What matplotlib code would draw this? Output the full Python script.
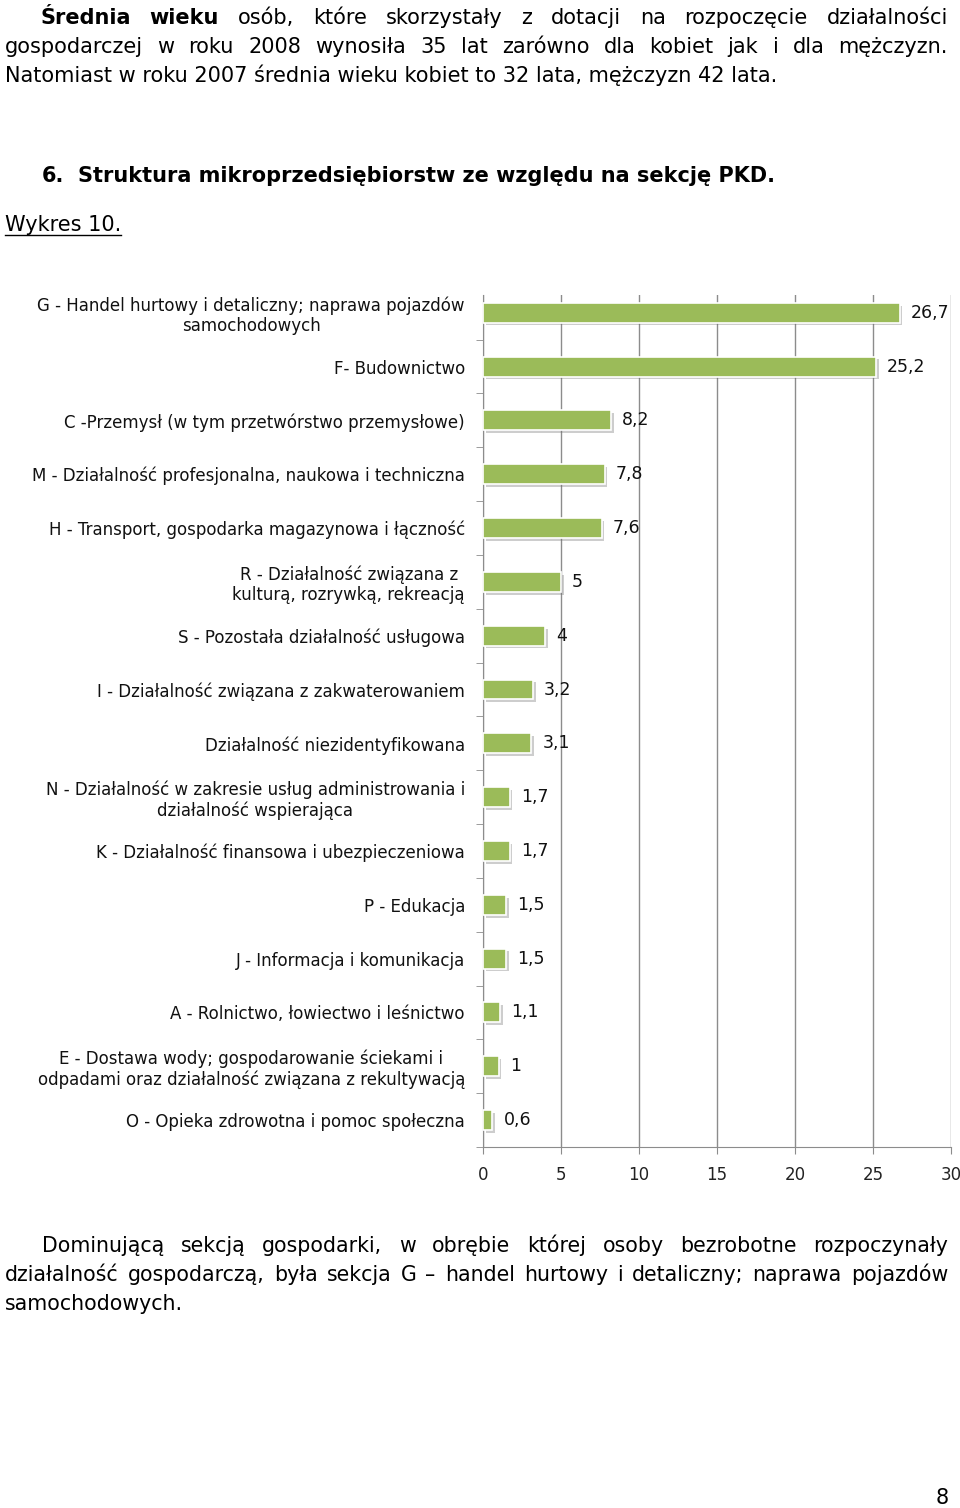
import numpy as np
import matplotlib
matplotlib.use("Agg")
import matplotlib.pyplot as plt
import matplotlib.patheffects as pe

# dane z wykresu
kategorie = [
    "G - Handel hurtowy i detaliczny; naprawa pojazdów\nsamochodowych",
    "F- Budownictwo",
    "C -Przemysł (w tym przetwórstwo przemysłowe)",
    "M - Działalność profesjonalna, naukowa i techniczna",
    "H - Transport, gospodarka magazynowa i łączność",
    "R - Działalność związana z\nkulturą, rozrywką, rekreacją",
    "S - Pozostała działalność usługowa",
    "I - Działalność związana z zakwaterowaniem",
    "Działalność niezidentyfikowana",
    "N - Działalność w zakresie usług administrowania i\ndziałalność wspierająca",
    "K - Działalność finansowa i ubezpieczeniowa",
    "P - Edukacja",
    "J - Informacja i komunikacja",
    "A - Rolnictwo, łowiectwo i leśnictwo",
    "E - Dostawa wody; gospodarowanie ściekami i\nodpadami oraz działalność związana z rekultywacją",
    "O - Opieka zdrowotna i pomoc społeczna",
]
wartosci = [26.7, 25.2, 8.2, 7.8, 7.6, 5, 4, 3.2, 3.1, 1.7, 1.7, 1.5, 1.5, 1.1, 1, 0.6]
ticki_x = [0, 5, 10, 15, 20, 25, 30]

W, H = 960, 1508
fig = plt.figure(figsize=(W / 100, H / 100), dpi=100)
fig.patch.set_facecolor("white")
renderer = fig.canvas.get_renderer()


def fx(x):
    return x / W


def fy(y):
    return 1 - y / H


def tekst(x, y, s, size, **kw):
    return fig.text(fx(x), fy(y), s, fontsize=size, va="baseline", ha="left", **kw)


def wyjustuj(slowa, y, x0, x1, size, **kw):
    # slowa: lista (tekst, pogrubienie)
    obj = []
    for s, b in slowa:
        obj.append(tekst(0, y, s, size, fontweight="bold" if b else "normal", **kw))
    szer = [t.get_window_extent(renderer).width for t in obj]
    odstep = (x1 - x0 - sum(szer)) / (len(obj) - 1)
    x = x0
    for t, w in zip(obj, szer):
        t.set_x(fx(x))
        x += w + odstep


ROZ = 15.0

# akapit u góry
l1 = "Średnia wieku osób, które skorzystały z dotacji na rozpoczęcie działalności".split()
wyjustuj([(w, i < 2) for i, w in enumerate(l1)], 24, 40, 948, ROZ)
l2 = "gospodarczej w roku 2008 wynosiła 35 lat zarówno dla kobiet jak i dla mężczyzn.".split()
wyjustuj([(w, False) for w in l2], 53, 5, 948, ROZ)
tekst(5, 82, "Natomiast w roku 2007 średnia wieku kobiet to 32 lata, mężczyzn 42 lata.", ROZ)

# nagłówek
tekst(42, 182, "6.", ROZ, fontweight="bold")
tekst(78, 182, "Struktura mikroprzedsiębiorstw ze względu na sekcję PKD.", ROZ, fontweight="bold")

# Wykres 10. (podkreślony)
t = tekst(5, 231, "Wykres 10.", ROZ)
sz = t.get_window_extent(renderer).width
fig.add_artist(plt.Line2D([fx(5), fx(5 + sz)], [fy(235), fy(235)], color="black", lw=1.0))

# wykres
ax = fig.add_axes([fx(483), fy(1147), fx(951) - fx(483), fy(295) - fy(1147)])
y = np.arange(len(kategorie))
slupki = ax.barh(y, wartosci, height=0.37, color="#9BBB59", edgecolor="white", linewidth=1.2, zorder=3)
for b in slupki:
    b.set_path_effects([pe.SimplePatchShadow(offset=(2, -2), shadow_rgbFace="#707070", alpha=0.35), pe.Normal()])

ax.set_xlim(0, 30)
ax.set_ylim(len(kategorie) - 0.5, -0.33)
ax.set_xticks(ticki_x)
ax.set_xticklabels([str(v) for v in ticki_x], fontsize=12, color="#222222")
ax.grid(axis="x", color="#8c8c8c", lw=1.0, zorder=0)
ax.set_yticks(y)
ax.set_yticklabels(kategorie, fontsize=12, color="#111111", multialignment="center", linespacing=1.15)
ax.set_yticks(np.arange(0.5, len(kategorie), 1.0), minor=True)
ax.tick_params(axis="y", which="major", length=0, pad=13)
ax.tick_params(axis="y", which="minor", length=5, color="#8c8c8c", direction="out")
ax.tick_params(axis="x", length=5, color="#8c8c8c", direction="out", pad=9)
for s in ["top", "right"]:
    ax.spines[s].set_visible(False)
for s in ["left", "bottom"]:
    ax.spines[s].set_color("#8c8c8c")

for yi, v in zip(y, wartosci):
    etyk = ("%g" % v).replace(".", ",")
    ax.annotate(etyk, (v, yi), xytext=(8, 0), textcoords="offset points",
                va="center", ha="left", fontsize=12.5, color="#111111")

# akapit u dołu
ROZ2 = 14.8
b1 = "Dominującą sekcją gospodarki, w obrębie której osoby bezrobotne rozpoczynały".split()
wyjustuj([(w, False) for w in b1], 1252, 42, 948, ROZ2)
b2 = "działalność gospodarczą, była sekcja G – handel hurtowy i detaliczny; naprawa pojazdów".split()
wyjustuj([(w, False) for w in b2], 1281, 5, 948, ROZ2)
tekst(5, 1310, "samochodowych.", ROZ2)

# numer strony
tekst(936, 1504, "8", ROZ)

fig.savefig("out.png", dpi=100)
